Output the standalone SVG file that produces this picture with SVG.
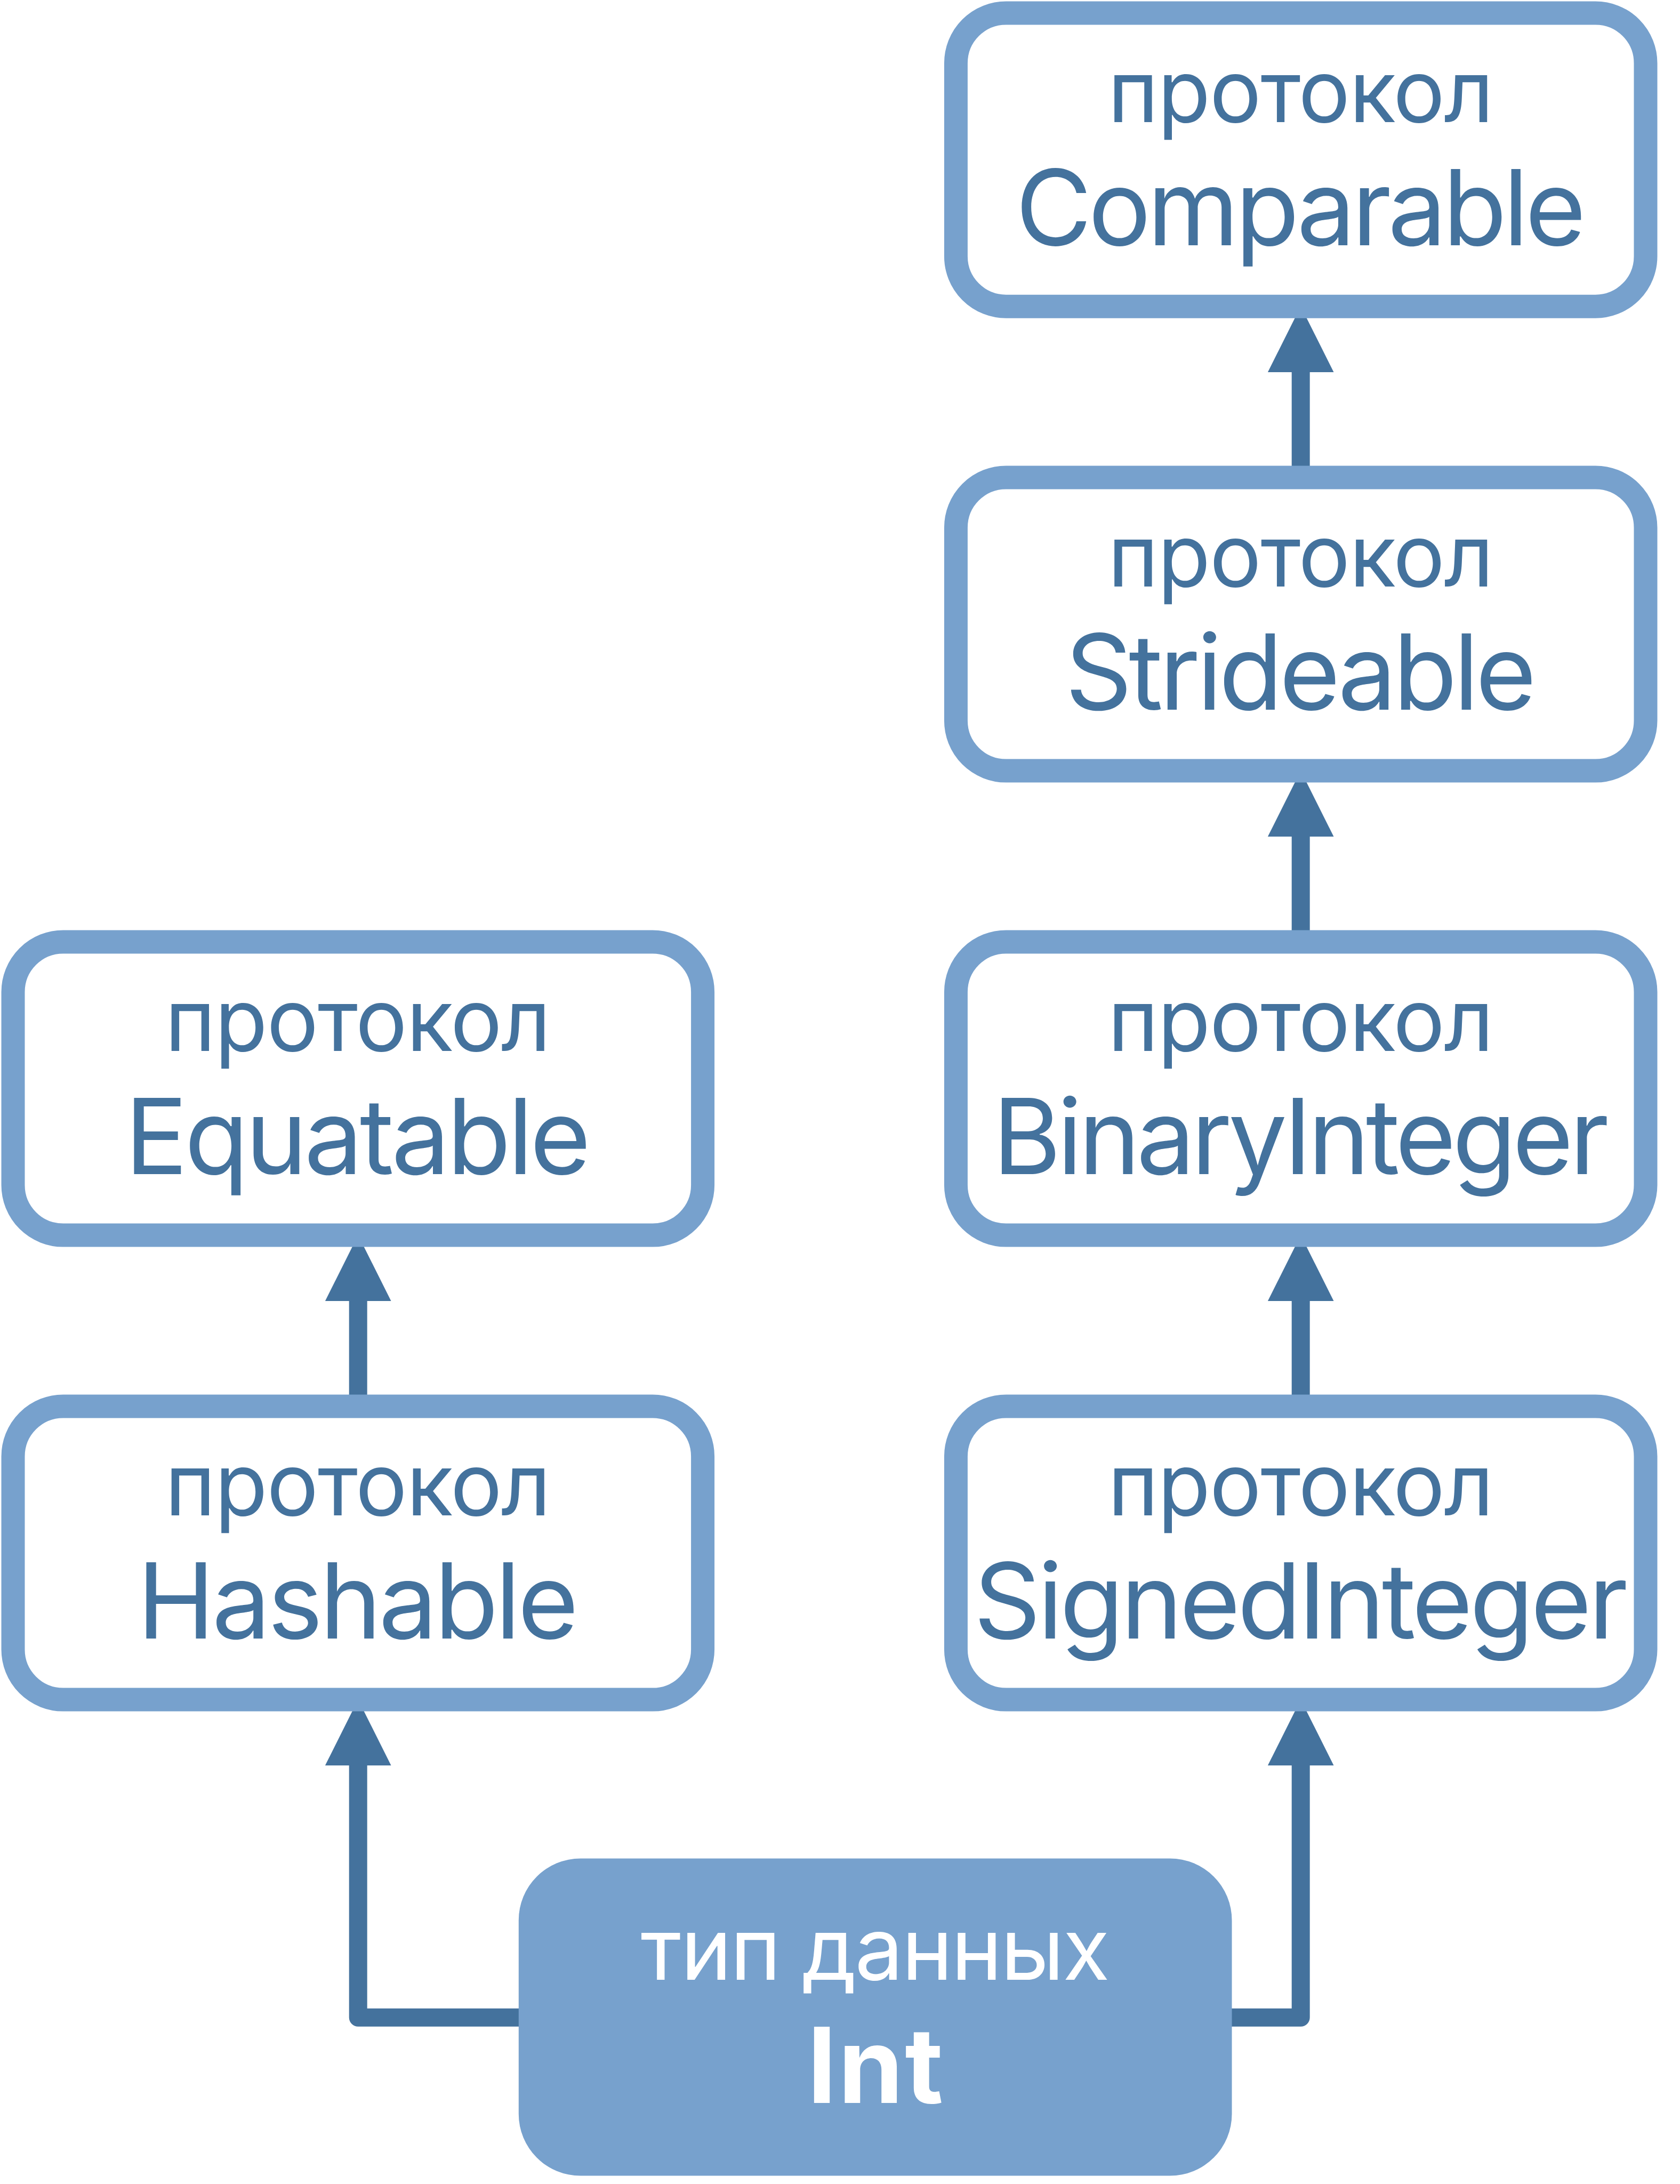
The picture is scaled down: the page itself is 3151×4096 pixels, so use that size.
<svg xmlns="http://www.w3.org/2000/svg" width="3151" height="4096" viewBox="0 0 3151 4096">
  <style>
    .box { fill: #ffffff; stroke: #77A1CD; stroke-width: 44; }
    .proto { font-family: Inter, "Noto Sans", "Liberation Sans", sans-serif; font-size: 162px; fill: #44729D; text-anchor: middle; }
    .name { font-family: Inter, "Noto Sans", "Liberation Sans", sans-serif; font-size: 196px; fill: #44729D; text-anchor: middle; }
    .conn { fill: none; stroke: #44729D; stroke-width: 34; stroke-linecap: round; stroke-linejoin: round; }
    .head { fill: #44729D; }
    .intbox { fill: #77A1CD; }
    .white1 { font-family: Inter, "Noto Sans", "Liberation Sans", sans-serif; font-size: 162px; fill: #ffffff; text-anchor: middle; }
    .white2 { font-family: Inter, "Noto Sans", "Liberation Sans", sans-serif; font-size: 196px; font-weight: bold; fill: #ffffff; text-anchor: middle; }
  </style>
  <rect width="3151" height="4096" fill="#ffffff"/>

  <g id="connectors">
    <!-- Strideable -> Comparable -->
    <line class="conn" x1="2439.7" y1="895.4" x2="2439.7" y2="690"/>
    <polygon class="head" points="2439.7,574.6 2501.5,698.1 2377.9,698.1"/>
    <!-- BinaryInteger -> Strideable -->
    <line class="conn" x1="2439.7" y1="1766.4" x2="2439.7" y2="1560"/>
    <polygon class="head" points="2439.7,1445.6 2501.5,1569.1 2377.9,1569.1"/>
    <!-- SignedInteger -> BinaryInteger -->
    <line class="conn" x1="2439.7" y1="2637.4" x2="2439.7" y2="2432"/>
    <polygon class="head" points="2439.7,2316.6 2501.5,2440.1 2377.9,2440.1"/>
    <!-- Hashable -> Equatable -->
    <line class="conn" x1="671.7" y1="2637.4" x2="671.7" y2="2432"/>
    <polygon class="head" points="671.7,2316.6 733.5,2440.1 609.9,2440.1"/>
    <!-- Int -> Hashable -->
    <polyline class="conn" points="1100,3783.8 671.7,3783.8 671.7,3303"/>
    <polygon class="head" points="671.7,3187.5 733.5,3311 609.9,3311"/>
    <!-- Int -> SignedInteger -->
    <polyline class="conn" points="2200,3783.8 2439.7,3783.8 2439.7,3303"/>
    <polygon class="head" points="2439.7,3187.5 2501.5,3311 2377.9,3311"/>
  </g>

  <g id="node-comparable">
    <rect class="box" x="1792.9" y="24.5" width="1293.6" height="550.2" rx="94" ry="94"/>
    <text class="proto" x="2439.7" y="229.4" textLength="724">протокол</text>
    <text class="name" x="2439.7" y="460.4" textLength="1070">Comparable</text>
  </g>

  <g id="node-strideable">
    <rect class="box" x="1792.9" y="895.4" width="1293.6" height="550.2" rx="94" ry="94"/>
    <text class="proto" x="2439.7" y="1100.3" textLength="724">протокол</text>
    <text class="name" x="2439.7" y="1331.3" textLength="884">Strideable</text>
  </g>

  <g id="node-binaryinteger">
    <rect class="box" x="1792.9" y="1766.4" width="1293.6" height="550.2" rx="94" ry="94"/>
    <text class="proto" x="2439.7" y="1971.3" textLength="724">протокол</text>
    <text class="name" x="2439.7" y="2202.3" textLength="1156">BinaryInteger</text>
  </g>

  <g id="node-signedinteger">
    <rect class="box" x="1792.9" y="2637.4" width="1293.6" height="550.2" rx="94" ry="94"/>
    <text class="proto" x="2439.7" y="2842.3" textLength="724">протокол</text>
    <text class="name" x="2439.7" y="3073.3" textLength="1227">SignedInteger</text>
  </g>

  <g id="node-equatable">
    <rect class="box" x="24.5" y="1766.4" width="1293.6" height="550.2" rx="94" ry="94"/>
    <text class="proto" x="671.3" y="1971.3" textLength="724">протокол</text>
    <text class="name" x="671.3" y="2202.3" textLength="874">Equatable</text>
  </g>

  <g id="node-hashable">
    <rect class="box" x="24.5" y="2637.4" width="1293.6" height="550.2" rx="94" ry="94"/>
    <text class="proto" x="671.3" y="2842.3" textLength="724">протокол</text>
    <text class="name" x="671.3" y="3073.3" textLength="828">Hashable</text>
  </g>

  <g id="node-int">
    <rect class="intbox" x="972.8" y="3485.5" width="1337.7" height="595.1" rx="116" ry="116"/>
    <text class="white1" x="1641.6" y="3713.3" textLength="880">тип данных</text>
    <text class="white2" x="1641.6" y="3944.2" textLength="255">Int</text>
  </g>
</svg>
